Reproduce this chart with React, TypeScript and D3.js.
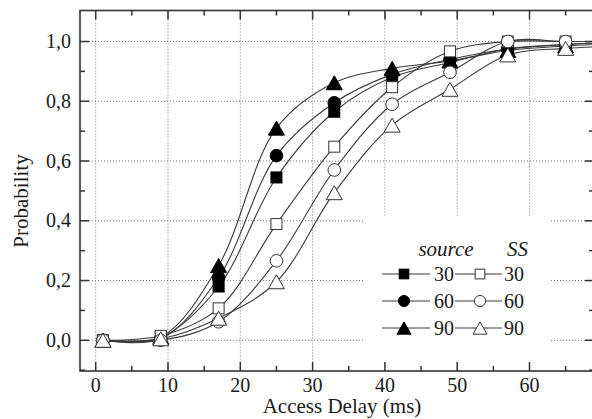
import React from "react";
import * as d3 from "d3";

const delays = [1, 9, 17, 25, 33, 41, 49, 57, 65, 73];
const source30 = [0, 0.01, 0.18, 0.545, 0.765, 0.88, 0.93, 0.975, 0.99, 1.0];
const source60 = [0, 0.005, 0.21, 0.618, 0.795, 0.89, 0.94, 0.975, 0.99, 1.0];
const source90 = [0, 0.01, 0.25, 0.71, 0.862, 0.91, 0.935, 0.97, 0.985, 0.995];
const ss30 = [0, 0.015, 0.107, 0.389, 0.648, 0.847, 0.967, 1.0, 1.0, 1.0];
const ss60 = [0, 0.0, 0.062, 0.266, 0.57, 0.79, 0.897, 1.0, 1.0, 1.0];
const ss90 = [0, 0.005, 0.074, 0.196, 0.494, 0.72, 0.84, 0.955, 0.977, 0.985];

const xTicks = [0, 10, 20, 30, 40, 50, 60];
const xMinor = [5, 15, 25, 35, 45, 55, 65];
const yTicks = [0, 0.2, 0.4, 0.6, 0.8, 1.0];
const yMinor = [-0.1, 0.1, 0.3, 0.5, 0.7, 0.9];
const yTickLabels = ["0,0", "0,2", "0,4", "0,6", "0,8", "1,0"];
const legendLabels = ["30", "60", "90"];

type Shape = "square" | "circle" | "triangle";
const seriesList: { values: number[]; shape: Shape; filled: boolean }[] = [
  { values: source30, shape: "square", filled: true },
  { values: source60, shape: "circle", filled: true },
  { values: source90, shape: "triangle", filled: true },
  { values: ss30, shape: "square", filled: false },
  { values: ss60, shape: "circle", filled: false },
  { values: ss90, shape: "triangle", filled: false },
];

const L = 80, R = 594, T = 10.5, B = 371;
const x = d3.scaleLinear().domain([0, 60]).range([95.7, 529.5]);
const y = d3.scaleLinear().domain([0, 1]).range([340.3, 41.5]);

const FONT = "Liberation Serif, Times New Roman, Times, serif";
const INK = "#1a1a1a";

function Marker({ shape, filled, cx, cy, s }: { shape: Shape; filled: boolean; cx: number; cy: number; s: number }) {
  const fill = filled ? "#000" : "#fff";
  const stroke = filled ? "#000" : "#333";
  if (shape === "square") {
    const a = 11 * s;
    return <rect x={cx - a / 2} y={cy - a / 2} width={a} height={a} fill={fill} stroke={stroke} strokeWidth={1} />;
  }
  if (shape === "circle") {
    return <circle cx={cx} cy={cy} r={6.3 * s} fill={fill} stroke={stroke} strokeWidth={1} />;
  }
  const w = 16 * s, h = 14 * s;
  const pts = `${cx},${cy - h / 2} ${cx + w / 2},${cy + h / 2} ${cx - w / 2},${cy + h / 2}`;
  return <polygon points={pts} fill={fill} stroke={stroke} strokeWidth={1} strokeLinejoin="miter" />;
}

export default function App() {
  const line = d3
    .line<number>()
    .x((_, i) => x(delays[i]))
    .y((d) => y(d))
    .curve(d3.curveCatmullRom.alpha(0.5));

  const rows = [274, 301, 328];

  return (
    <svg width={592} height={419} style={{ position: "absolute", left: 0, top: 0, background: "#fff", fontFamily: FONT }}>
      <defs>
        <clipPath id="plotclip">
          <rect x={L} y={T} width={R - L} height={B - T} />
        </clipPath>
      </defs>
      <rect x={0} y={0} width={592} height={419} fill="#fff" />
      {/* grid */}
      {xTicks.map((t) => (
        <line key={"gx" + t} x1={x(t)} x2={x(t)} y1={T} y2={B} stroke="#777" strokeWidth={1} strokeDasharray="1,2" />
      ))}
      {yTicks.map((t) => (
        <line key={"gy" + t} x1={L} x2={R} y1={y(t)} y2={y(t)} stroke="#777" strokeWidth={1} strokeDasharray="1,2" />
      ))}
      {/* legend background */}
      <rect x={363} y={216} width={187} height={B - 216} fill="#fff" />
      {/* lines */}
      <g clipPath="url(#plotclip)">
        {seriesList.map((s, i) => (
          <path key={"l" + i} d={line(s.values) || ""} fill="none" stroke="#3a3a3a" strokeWidth={1.1} />
        ))}
        {seriesList.map((s, i) =>
          s.values.map((v, j) => (
            <Marker key={`m${i}-${j}`} shape={s.shape} filled={s.filled} cx={x(delays[j])} cy={y(v)} s={1} />
          ))
        )}
      </g>
      {/* frame */}
      <rect x={L} y={T} width={R - L} height={B - T} fill="none" stroke="#333" strokeWidth={1.6} />
      {/* ticks */}
      {xTicks.map((t) => (
        <g key={"tx" + t}>
          <line x1={x(t)} x2={x(t)} y1={B} y2={B - 9} stroke="#333" strokeWidth={1.5} />
          <line x1={x(t)} x2={x(t)} y1={T} y2={T + 9} stroke="#333" strokeWidth={1.5} />
          <text x={x(t)} y={392} textAnchor="middle" fontFamily={FONT} fontSize={20} fill={INK}>
            {t}
          </text>
        </g>
      ))}
      {xMinor.map((t) => (
        <g key={"mx" + t}>
          <line x1={x(t)} x2={x(t)} y1={B} y2={B - 5} stroke="#333" strokeWidth={1.5} />
          <line x1={x(t)} x2={x(t)} y1={T} y2={T + 5} stroke="#333" strokeWidth={1.5} />
        </g>
      ))}
      {yTicks.map((t, i) => (
        <g key={"ty" + t}>
          <line x1={L} x2={L + 9} y1={y(t)} y2={y(t)} stroke="#333" strokeWidth={1.5} />
          <line x1={R} x2={R - 9} y1={y(t)} y2={y(t)} stroke="#333" strokeWidth={1.5} />
          <text x={71} y={y(t) + 6.5} textAnchor="end" fontFamily={FONT} fontSize={20} fill={INK}>
            {yTickLabels[i]}
          </text>
        </g>
      ))}
      {yMinor.map((t) => (
        <g key={"my" + t}>
          <line x1={L} x2={L + 5} y1={y(t)} y2={y(t)} stroke="#333" strokeWidth={1.5} />
          <line x1={R} x2={R - 5} y1={y(t)} y2={y(t)} stroke="#333" strokeWidth={1.5} />
        </g>
      ))}
      {/* axis titles */}
      <text x={342} y={413} textAnchor="middle" fontFamily={FONT} fontSize={21} fill={INK}>
        Access Delay (ms)
      </text>
      <text
        transform={`translate(28,201) rotate(-90)`}
        textAnchor="middle"
        fontFamily={FONT}
        fontSize={21}
        fill={INK}
      >
        Probability
      </text>
      {/* legend */}
      <text x={446} y={256} textAnchor="middle" fontFamily={FONT} fontStyle="italic" fontSize={21} fill={INK}>
        source
      </text>
      <text x={517.5} y={256} textAnchor="middle" fontFamily={FONT} fontStyle="italic" fontSize={21} fill={INK}>
        SS
      </text>
      {rows.map((ry, i) => (
        <g key={"lg" + i}>
          <line x1={382} x2={430} y1={ry} y2={ry} stroke="#3a3a3a" strokeWidth={1.1} />
          <Marker shape={seriesList[i].shape} filled cx={404} cy={ry} s={0.88} />
          <text x={434} y={ry + 7} fontFamily={FONT} fontSize={20} fill={INK}>
            {legendLabels[i]}
          </text>
          <line x1={455} x2={502} y1={ry} y2={ry} stroke="#3a3a3a" strokeWidth={1.1} />
          <Marker shape={seriesList[i + 3].shape} filled={false} cx={480} cy={ry} s={0.88} />
          <text x={504} y={ry + 7} fontFamily={FONT} fontSize={20} fill={INK}>
            {legendLabels[i]}
          </text>
        </g>
      ))}
    </svg>
  );
}
